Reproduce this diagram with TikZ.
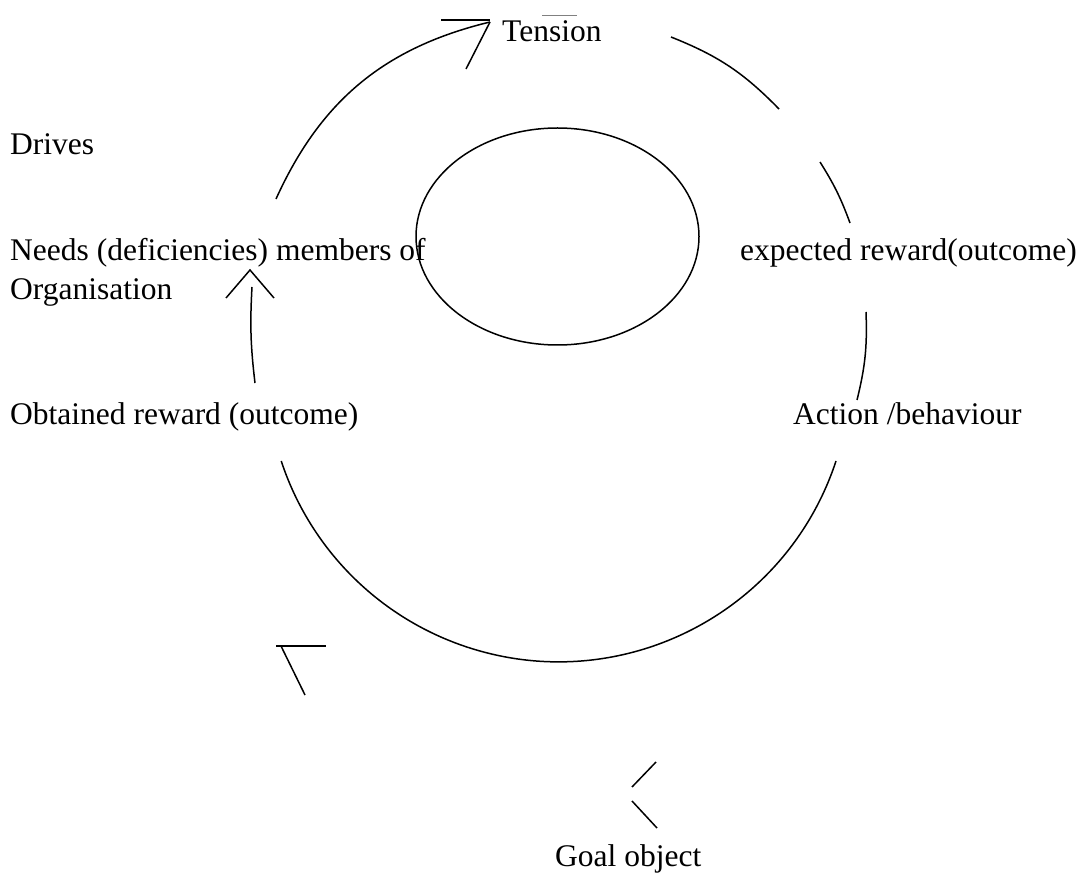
\documentclass[tikz,border=0pt]{standalone}
\usepackage{fontspec}
\setmainfont{Liberation Serif}
\usetikzlibrary{shapes.geometric}
\begin{document}
\begin{tikzpicture}[x=1pt,y=-1pt,
  lbl/.style={anchor=base west,inner sep=0pt,font=\fontsize{31.5}{38}\selectfont},
  ln/.style={line width=1.5pt,line cap=butt}]
\useasboundingbox (0,0) rectangle (1084,874);
% labels
\node[lbl] (tension) at (502,42) {Tension};
\node[lbl] (drives) at (10,155) {Drives};
\node[lbl] (needs) at (10,261) {Needs (deficiencies) members of};
\node[lbl] (expected) at (740,261) {expected reward(outcome)};
\node[lbl] (org) at (10,300) {Organisation};
\node[lbl] (obtained) at (10,424) {Obtained reward (outcome)};
\node[lbl] (action) at (793,424) {Action /behaviour};
\node[lbl] (goal) at (555,866) {Goal object};
% inner ellipse
\node[draw,ln,ellipse,minimum width=283pt,minimum height=217pt,inner sep=0pt] (inner) at (557.5,236.5) {};
% arcs
\coordinate (a1s) at (276,199); \coordinate (a1e) at (490,22);
\coordinate (a2s) at (671,37);  \coordinate (a2e) at (779,109);
\coordinate (a3s) at (820,162); \coordinate (a3e) at (850,223);
\coordinate (a4s) at (866,312); \coordinate (a4e) at (857,400);
\coordinate (a5s) at (255,383); \coordinate (a5e) at (252,287);
\coordinate (a6s) at (836,461);
\draw[ln] (a1s) to[bend left=26] (a1e);
\draw[ln] (a2s) to[bend left=12] (a2e);
\draw[ln] (a3s) to[bend left=6] (a3e);
\draw[ln] (a4s) to[bend left=8] (a4e);
\draw[ln] (a5s) to[bend left=5] (a5e);
\draw[ln] (a6s) arc[start angle=18.2, end angle=161.8, radius=292];
% arrowheads
\coordinate (h1) at (490,20);
\draw[ln] (441,20) -- (h1);
\draw[ln] (490,22) -- (466,69);
\coordinate (h2) at (250,270);
\draw[ln] (226,298) -- (h2) -- (274,298);
\coordinate (h3) at (281,646);
\draw[ln] (276,646) -- (326,646);
\draw[ln] (h3) -- (305,695);
\coordinate (h4) at (632,787);
\draw[ln] (656,762) -- (h4);
\draw[ln] (632,801) -- (657,828);
% small mark above Tension
\draw[line width=0.8pt,gray] (542,15) -- (577,15);
\end{tikzpicture}
\end{document}
